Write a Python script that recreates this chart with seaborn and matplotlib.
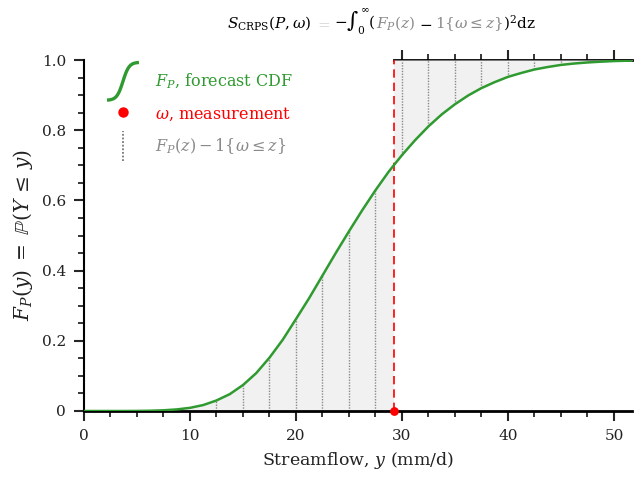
import numpy as np
import pandas as pd
import matplotlib
matplotlib.use("Agg")
import matplotlib.pyplot as plt
import seaborn as sns
from matplotlib.legend_handler import HandlerBase
from matplotlib.lines import Line2D
from matplotlib.ticker import MultipleLocator, FuncFormatter
import matplotlib.transforms as mtransforms

# ---------------- data ----------------
streamflow = [0, 1.25, 2.5, 3.75, 5, 6.25, 7.5, 8.75, 10, 11.25, 12.5, 13.75, 15,
              16.25, 17.5, 18.75, 20, 21.25, 22.5, 23.75, 25, 26.25, 27.5, 28.75,
              29.2, 30, 31.25, 32.5, 33.75, 35, 36.25, 37.5, 38.75, 40, 41.25, 42.5,
              43.75, 45, 46.25, 47.5, 48.75, 50, 51.25, 52.5]
forecast_cdf = [0, 0, 0, 0, 0.0002, 0.0008, 0.002, 0.0045, 0.009, 0.017, 0.030, 0.048,
                0.074, 0.108, 0.152, 0.203, 0.262, 0.322, 0.386, 0.450, 0.512, 0.572,
                0.629, 0.682, 0.699, 0.729, 0.772, 0.811, 0.845, 0.874, 0.899, 0.920,
                0.937, 0.952, 0.963, 0.973, 0.980, 0.986, 0.990, 0.993, 0.9952, 0.997,
                0.998, 0.9985]
measurement = 29.2
hatch_positions = [12.5, 15, 17.5, 20, 22.5, 25, 27.5, 30, 32.5, 35, 37.5, 40, 42.5, 45]
x_ticks = [0, 10, 20, 30, 40, 50]
y_ticks = [0, 0.2, 0.4, 0.6, 0.8, 1.0]
top_major_ticks = [30, 40, 50]
top_minor_ticks = [32.5, 35, 37.5, 42.5, 45, 47.5]
x_max = 51.7

legend_labels = [r"$F_P$, forecast CDF", r"$\omega$, measurement",
                 r"$F_P(z) - 1\{\omega \leq z\}$"]

GREEN = "#2f9a2f"
RED = "#ff0000"
GRAY = "#8a8a8a"
LIGHT = "#d2d2d2"
TEXT = "#222222"

sns.set_theme(style="ticks")
plt.rcParams["font.family"] = ["DejaVu Serif"]
plt.rcParams["mathtext.fontset"] = "dejavuserif"
plt.rcParams["axes.edgecolor"] = "black"

fig = plt.figure(figsize=(6.34, 4.78), dpi=100)
W, H = 634, 478
ax = fig.add_axes([84 / W, (H - 411) / H, (632 - 84) / W, (411 - 60) / H])

df = pd.DataFrame({"y": streamflow, "F": forecast_cdf})
x = np.array(streamflow)
F = np.array(forecast_cdf)

ax.fill_between(x, F, 0, where=x <= measurement, color="#f1f1f1", lw=0, zorder=1)
ax.fill_between(x, F, 1, where=x >= measurement, color="#f1f1f1", lw=0, zorder=1)
lookup = dict(zip(streamflow, forecast_cdf))
for h in hatch_positions:
    f = lookup[h]
    lo, hi = (0, f) if h < measurement else (f, 1)
    ax.vlines(h, lo, hi, colors="#8a8a8a", linestyles=(0, (1, 1)), lw=1.0, zorder=2)

ax.axvline(measurement, ymin=0, ymax=1, color=RED, ls=(0, (5, 3)), lw=1.2, zorder=3)
sns.lineplot(data=df, x="y", y="F", color=GREEN, lw=1.8, ax=ax, zorder=4)
ax.scatter([measurement], [0], s=40, color=RED, zorder=6, clip_on=False, lw=0)

ax.set_xlim(0, x_max)
ax.set_ylim(0, 1)
ax.set_xticks(x_ticks)
ax.set_yticks(y_ticks)
ax.xaxis.set_minor_locator(MultipleLocator(2.5))
ax.yaxis.set_minor_locator(MultipleLocator(0.05))
ax.xaxis.set_major_formatter(FuncFormatter(lambda v, p: "0" if v == 0 else f"{v:g}"))
ax.yaxis.set_major_formatter(FuncFormatter(lambda v, p: "0" if v == 0 else f"{v:.1f}"))
ax.tick_params(which="major", direction="out", length=7, width=1.5, labelsize=11,
               labelcolor=TEXT, pad=6)
ax.tick_params(which="minor", direction="out", length=4, width=1.3)

for s in ["top", "right"]:
    ax.spines[s].set_visible(False)
ax.spines["bottom"].set_linewidth(2.0)
ax.spines["left"].set_linewidth(1.5)

sec = ax.secondary_xaxis("top")
sec.set_xticks(top_major_ticks)
sec.set_xticks(top_minor_ticks, minor=True)
sec.tick_params(which="major", direction="out", length=7, width=1.5, labeltop=False)
sec.tick_params(which="minor", direction="out", length=4, width=1.3)
sec.spines["top"].set_bounds(measurement, x_max)
sec.spines["top"].set_linewidth(2.0)

ax.set_xlabel(r"Streamflow, $y$ (mm/d)", fontsize=12.5, color=TEXT, labelpad=5)
ax.set_ylabel(r"$F_P(y)\;=\;\mathbb{P}(Y\,\leq\,y)$", fontsize=14.5, color=TEXT,
              labelpad=5)


class SigmoidHandler(HandlerBase):
    def create_artists(self, legend, orig, xd, yd, w, h, fs, trans):
        t = np.linspace(-1, 1, 80)
        xs = -xd + w * (t + 1) / 2
        ys = -yd + h / 2 + 1.15 * h * np.tanh(2.6 * t) / np.tanh(2.6)
        ln = Line2D(xs, ys, color=GREEN, lw=2.4, solid_capstyle="butt")
        ln.set_transform(trans)
        return [ln]


class VDotHandler(HandlerBase):
    def create_artists(self, legend, orig, xd, yd, w, h, fs, trans):
        xc = -xd + w / 2
        ln = Line2D([xc, xc], [-yd - 0.4 * h, -yd + 1.4 * h], color="#777777",
                    lw=1.3, ls=(0, (1, 1)))
        ln.set_transform(trans)
        return [ln]


h1 = Line2D([], [], color=GREEN)
h2 = Line2D([], [], marker="o", color=RED, ls="none", markersize=7.5, markeredgewidth=0)
h3 = Line2D([], [], color=GRAY, ls=":")
leg = ax.legend([h1, h2, h3], legend_labels, loc="upper left",
                bbox_to_anchor=((107 - 84) / 548, (411 - 72) / 351),
                frameon=False, fontsize=11.5, handlelength=2.0, handleheight=1.2,
                handletextpad=1.0, labelspacing=0.85, borderpad=0, borderaxespad=0,
                handler_map={h1: SigmoidHandler(), h3: VDotHandler()})
for txt, c in zip(leg.get_texts(), [GREEN, RED, GRAY]):
    txt.set_color(c)

# ---------------- multi-colour title ----------------
# (text, colour, gap in pixels after the piece)
pieces = [
    (r"$S_{\mathrm{CRPS}}(P,\omega)$", "black", 4),
    (r"$=$", LIGHT, 3),
    (r"$-\int_0^{\infty}($", "black", 0),
    (r"$F_P(z)$", GRAY, 4),
    (r"$-$", "black", 2),
    (r"$1\{\omega \leq z\}$", GRAY, 0),
    (r"$)^2\mathrm{dz}$", "black", 0),
]
fig.canvas.draw()
renderer = fig.canvas.get_renderer()
ident = mtransforms.IdentityTransform()

items = []
xpos = 0.0
for s, c, gap in pieces:
    t = fig.text(xpos, H - 28, s, color=c, fontsize=11, ha="left", va="baseline",
                 transform=ident)
    items.append((t, xpos))
    xpos += t.get_window_extent(renderer).width + gap
start = 381 - xpos / 2
for t, xp in items:
    t.set_x(start + xp)

fig.savefig("out.png", dpi=100)
